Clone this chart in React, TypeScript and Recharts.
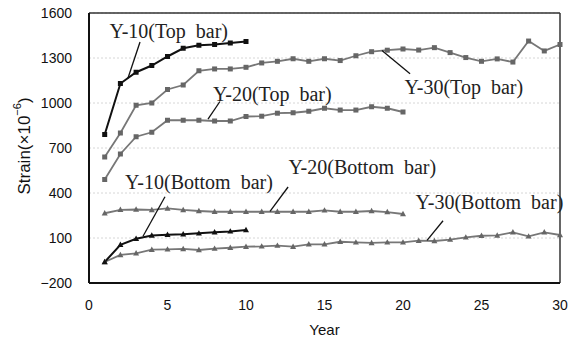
import React from "react";
import {
    LineChart,
    Line,
    XAxis,
    YAxis,
    CartesianGrid,
    ReferenceLine,
    ReferenceDot
} from "recharts";

const years = [
    1, 2, 3, 4, 5, 6, 7, 8, 9, 10, 11, 12, 13, 14, 15, 16, 17, 18, 19, 20,
    21, 22, 23, 24, 25, 26, 27, 28, 29, 30
];
const xTicks = [0, 5, 10, 15, 20, 25, 30];
const yTicks = [-200, 100, 400, 700, 1000, 1300, 1600];

const y10Top = [790, 1130, 1205, 1250, 1310, 1365, 1385, 1390, 1400, 1410];
const y20Top = [
    490, 660, 775, 805, 885, 885, 885, 880, 880, 910, 912, 932, 935, 945,
    965, 953, 953, 975, 965, 940
];
const y30Top = [
    640, 800, 985, 1000, 1090, 1120, 1215, 1227, 1227, 1238, 1267, 1278,
    1295, 1278, 1295, 1283, 1315, 1342, 1352, 1360, 1353, 1369, 1336, 1303,
    1278, 1294, 1273, 1413, 1347, 1390
];
const y10Bottom = [-60, 55, 95, 117, 122, 125, 131, 138, 144, 153];
const y20Bottom = [
    265, 288, 290, 287, 297, 287, 280, 275, 275, 275, 275, 275, 275, 275,
    284, 275, 275, 280, 273, 260
];
const y30Bottom = [
    -60, -13, -2, 22, 24, 27, 20, 29, 35, 42, 44, 49, 42, 58, 58, 75, 71, 67,
    71, 71, 82, 80, 89, 104, 115, 117, 138, 111, 138, 120
];

/** Annotation texts with their leader lines, in data units */
const notes = [
    { text: "Y-10(Top\u00a0\u00a0bar)", x: 1.3, y: 1480, from: { x: 3.25, y: 1407 }, to: { x: 2.48, y: 1165 } },
    { text: "Y-20(Top\u00a0\u00a0bar)", x: 7.9, y: 1060, from: { x: 8.34, y: 1010 }, to: { x: 7.58, y: 893 } },
    { text: "Y-30(Top\u00a0\u00a0bar)", x: 20.1, y: 1105, from: { x: 18.66, y: 1350 }, to: { x: 20.45, y: 1195 } },
    { text: "Y-10(Bottom\u00a0\u00a0bar)", x: 2.3, y: 475, from: { x: 4.84, y: 375 }, to: { x: 3.44, y: 112 } },
    { text: "Y-20(Bottom\u00a0\u00a0bar)", x: 12.7, y: 575, from: { x: 12.68, y: 440 }, to: { x: 11.53, y: 278 } },
    { text: "Y-30(Bottom\u00a0\u00a0bar)", x: 20.8, y: 342, from: { x: 22.55, y: 215 }, to: { x: 21.53, y: 84 } }
];

const pick = (arr: number[], i: number) => (i < arr.length ? arr[i] : null);

const data = years.map((year, i) => ({
    year,
    y10Top: pick(y10Top, i),
    y20Top: pick(y20Top, i),
    y30Top: pick(y30Top, i),
    y10Bottom: pick(y10Bottom, i),
    y20Bottom: pick(y20Bottom, i),
    y30Bottom: pick(y30Bottom, i)
}));

const BLACK = "#111";
const GRAY = "#777";

const squareDot = (color: string) => (props: any) => {
    const { cx, cy, index } = props;
    if (cx == null || cy == null || props.value == null) return <g key={index} />;
    return <rect key={index} x={cx - 2.5} y={cy - 2.5} width={5} height={5} fill={color} />;
};

const triangleDot = (color: string) => (props: any) => {
    const { cx, cy, index } = props;
    if (cx == null || cy == null || props.value == null) return <g key={index} />;
    return (
        <path
            key={index}
            d={`M${cx},${cy - 3.2}L${cx + 3},${cy + 2.2}L${cx - 3},${cy + 2.2}Z`}
            fill={color}
        />
    );
};

const tickStyle = { fontSize: 14, fill: "#111", fontFamily: "Liberation Sans, Arial, sans-serif" };

const YLabel = (props: any) => {
    const { viewBox } = props;
    const cx = viewBox.x + 24;
    const cy = viewBox.y + viewBox.height / 2 - 2;
    return (
        <text
            x={cx}
            y={cy}
            transform={`rotate(-90, ${cx}, ${cy})`}
            textAnchor="middle"
            dominantBaseline="central"
            fontSize={17}
            fill="#111"
            fontFamily="Liberation Sans, Arial, sans-serif"
        >
            Strain(×10
            <tspan fontSize={11} dy={-7}>−6</tspan>
            <tspan dy={7}>)</tspan>
        </text>
    );
};

export default function App() {
    return (
        <div style={{ position: "absolute", left: 0, top: 0 }}>
            <LineChart
                width={575}
                height={340}
                data={data}
                margin={{ top: 13, right: 15, left: 0, bottom: 0 }}
            >
                <CartesianGrid
                    vertical={false}
                    stroke="#d6d6d6"
                    strokeDasharray="2 2"
                />
                <XAxis
                    dataKey="year"
                    type="number"
                    domain={[0, 30]}
                    ticks={xTicks}
                    height={57}
                    tickLine={false}
                    tickMargin={11}
                    tick={tickStyle}
                    axisLine={{ stroke: "#111", strokeWidth: 2 }}
                    label={{
                        value: "Year",
                        position: "insideBottom",
                        offset: 5,
                        fontSize: 15,
                        fill: "#111",
                        fontFamily: "Liberation Sans, Arial, sans-serif"
                    }}
                />
                <YAxis
                    type="number"
                    domain={[-200, 1600]}
                    ticks={yTicks}
                    width={89}
                    tickLine={false}
                    tickMargin={11}
                    tick={tickStyle}
                    tickFormatter={(v: number) => String(v).replace("-", "\u2212")}
                    axisLine={{ stroke: "#111", strokeWidth: 2 }}
                    label={<YLabel />}
                />
                <ReferenceLine y={1600} stroke="#333" strokeWidth={1.5} />
                <ReferenceLine x={30} stroke="#333" strokeWidth={1.5} />

                <Line dataKey="y30Top" stroke={GRAY} strokeWidth={1.8} dot={squareDot("#666")} isAnimationActive={false} />
                <Line dataKey="y20Top" stroke={GRAY} strokeWidth={1.8} dot={squareDot("#666")} isAnimationActive={false} />
                <Line dataKey="y10Top" stroke={BLACK} strokeWidth={2} dot={squareDot(BLACK)} isAnimationActive={false} />
                <Line dataKey="y20Bottom" stroke={GRAY} strokeWidth={1.8} dot={triangleDot("#666")} isAnimationActive={false} />
                <Line dataKey="y30Bottom" stroke={GRAY} strokeWidth={1.8} dot={triangleDot("#666")} isAnimationActive={false} />
                <Line dataKey="y10Bottom" stroke={BLACK} strokeWidth={2} dot={triangleDot(BLACK)} isAnimationActive={false} />

                {notes.map(n => (
                    <ReferenceLine
                        key={n.text + "line"}
                        segment={[n.from, n.to]}
                        stroke="#111"
                        strokeWidth={1.3}
                    />
                ))}
                {notes.map(n => (
                    <ReferenceDot
                        key={n.text}
                        x={n.x}
                        y={n.y}
                        r={0}
                        stroke="none"
                        fill="none"
                        label={{
                            value: n.text,
                            position: "right",
                            offset: 0,
                            fontSize: 20,
                            fill: "#222",
                            fontFamily: "Liberation Serif, Times New Roman, serif"
                        }}
                    />
                ))}
            </LineChart>
        </div>
    );
}
